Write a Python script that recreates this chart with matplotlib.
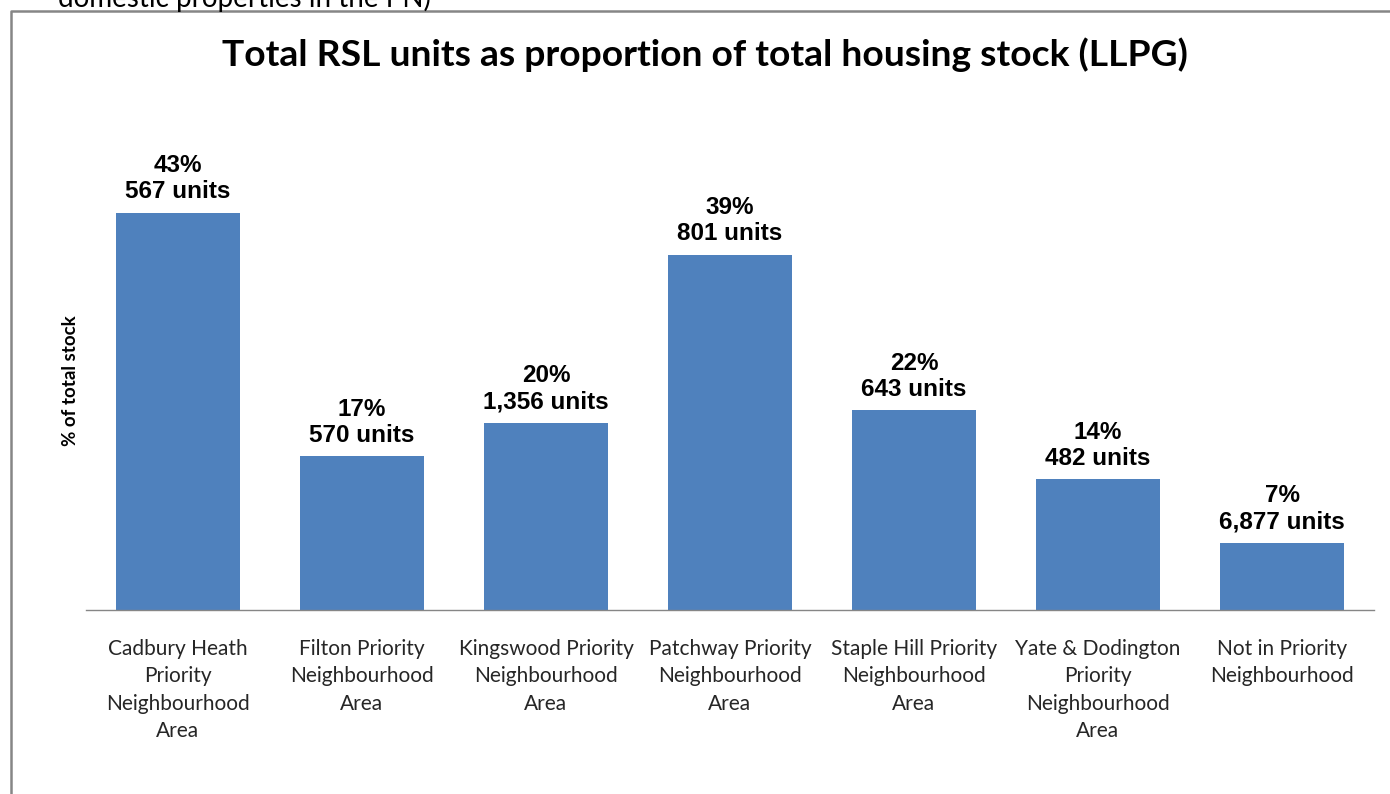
import matplotlib
matplotlib.use("Agg")
import matplotlib.pyplot as plt
from matplotlib.lines import Line2D

categories = [
    "Cadbury Heath\nPriority\nNeighbourhood\nArea",
    "Filton Priority\nNeighbourhood\nArea",
    "Kingswood Priority\nNeighbourhood\nArea",
    "Patchway Priority\nNeighbourhood\nArea",
    "Staple Hill Priority\nNeighbourhood\nArea",
    "Yate & Dodington\nPriority\nNeighbourhood\nArea",
    "Not in Priority\nNeighbourhood",
]
pct_values = [43.2, 16.7, 20.3, 38.6, 21.7, 14.2, 7.3]
pct_labels = ["43%", "17%", "20%", "39%", "22%", "14%", "7%"]
unit_labels = ["567 units", "570 units", "1,356 units", "801 units",
               "643 units", "482 units", "6,877 units"]

W, H = 1390, 794
fig = plt.figure(figsize=(W / 100, H / 100), dpi=100)
fig.patch.set_facecolor("white")

left_px, right_px, base_px, top_px = 86, 1374, 610, 150
ax = fig.add_axes([left_px / W, 1 - base_px / H, (right_px - left_px) / W, (base_px - top_px) / H])
ymax = (base_px - top_px) / 9.2
ax.set_ylim(0, ymax)
ax.set_xlim(-0.5, len(categories) - 0.5)

x = range(len(categories))
ax.bar(x, pct_values, width=0.67, color="#4F81BD", zorder=2)

for xi, v, p, u in zip(x, pct_values, pct_labels, unit_labels):
    ax.annotate(p + "\n" + u, (xi, v), xytext=(0, 7), textcoords="offset points",
                ha="center", va="bottom", fontsize=17.5, fontweight="bold",
                family="Liberation Sans", color="black", linespacing=1.17)

for s in ["top", "right", "left"]:
    ax.spines[s].set_visible(False)
ax.spines["bottom"].set_color("#868686")
ax.spines["bottom"].set_linewidth(1.0)
ax.set_yticks([])
ax.set_xticks(list(x))
ax.set_xticklabels(categories, family="Lato", fontsize=15, color="#262626", linespacing=1.45)
ax.tick_params(axis="x", length=0, pad=21)

fig.text(70 / W, 1 - 381 / H, "% of total stock", rotation=90, ha="center", va="center",
         family="Lato", fontweight="bold", fontsize=13.5, color="black")

fig.text(705 / W, 1 - 55 / H, "Total RSL units as proportion of total housing stock (LLPG)",
         ha="center", va="center", family="Lato", fontweight="bold", fontsize=26.8, color="black")

# partially visible text above the chart frame (cut off at the top, as in the source)
fig.text(58 / W, 1 - 7 / H, "domestic properties in the PN)", ha="left", va="baseline",
         family="Lato", fontsize=20, color="black")

# chart frame
fig.add_artist(Line2D([11 / W, 11 / W, 1.0], [0.0, 1 - 11 / H, 1 - 11 / H],
                      transform=fig.transFigure, color="#868686", linewidth=1.8))

fig.savefig("out.png", dpi=100)
